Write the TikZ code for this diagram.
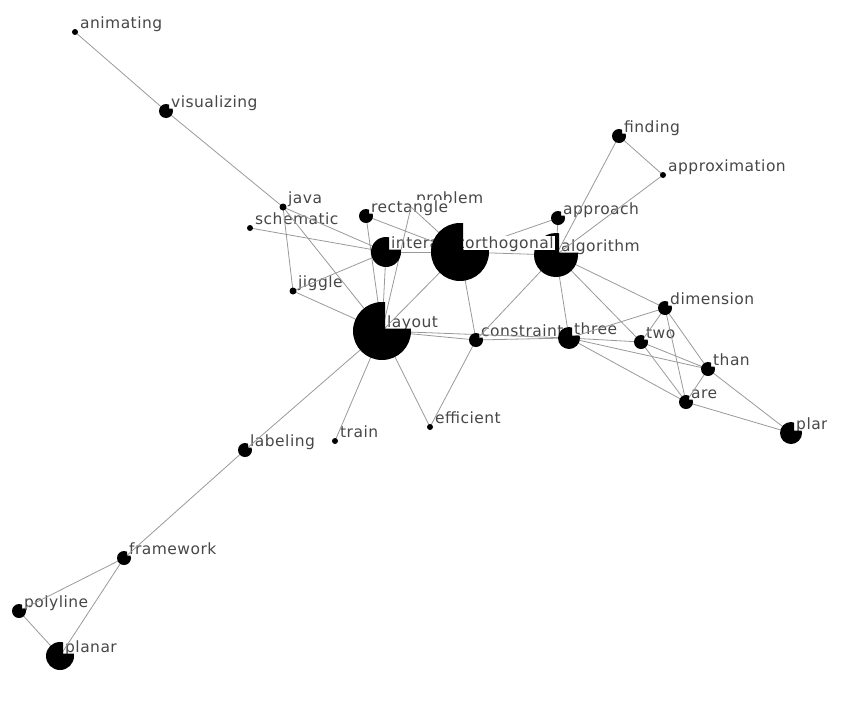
\documentclass[tikz,border=0pt]{standalone}
\usepackage{fontspec}
\setmainfont[LetterSpace=3]{DejaVu Sans}
\begin{document}
\begin{tikzpicture}[x=1pt,y=-1pt,
  edge/.style={draw=black!40,line width=0.8pt},
  lbl/.style={anchor=base west,fill=white,text=black!72,inner xsep=1pt,inner ysep=1pt,
              text depth=0pt,font=\fontsize{15.5}{18}\selectfont},
  blob/.style={fill=black}]
\useasboundingbox (0,0) rectangle (848,707);

% word positions (x, y, radius, printed word)
\def\words{animating/75/32/3/animating, visualizing/166/111/7/visualizing,
  java/283/207/3.5/java, schematic/250/228/3/schematic, jiggle/293/291/3.5/jiggle,
  problem/411/207/0/problem, rectangle/366/216/7/rectangle,
  interaction/386/252/15/interaction,
  approach/558/218/7/approach, algorithm/556/255/22/algorithm,
  finding/619/136/7/finding, approximation/663/175/3/approximation,
  layout/382/331/29/layout, constraint/476/340/7/constraint,
  three/569/338/11/three, two/641/342/7/two, dimension/665/308/7/dimension,
  than/708/369/7/than, are/686/402/7/are,
  efficient/430/427/3/efficient, train/335/441/3/train, labeling/245/450/7/labeling,
  framework/124/558/7/framework, polyline/19/611/7/polyline, planar/60/656/14/planar}

\foreach \n/\x/\y/\r/\t in \words {\coordinate (\n) at (\x,\y);}
\coordinate (orthogonal) at (460,252);
\coordinate (planarR) at (791,433);

% labels with white boxes
\foreach \n/\x/\y/\r/\t in \words {\node[lbl] (\n-l) at (\x+4,\y-3.5) {\t};}
\begin{scope}
  \clip (0,0) rectangle (826,707);
  \node[lbl] (planarR-l) at (795,429.5) {planar};
\end{scope}

% co-occurrence links
\foreach \a/\b in {animating/visualizing, visualizing/java, java/jiggle, java/layout,
  java/interaction, schematic/interaction, jiggle/interaction, jiggle/layout,
  rectangle/layout, rectangle/orthogonal, problem/layout, problem/orthogonal,
  interaction/layout, interaction/orthogonal, orthogonal/algorithm, orthogonal/layout,
  orthogonal/constraint, approach/orthogonal, approach/algorithm, finding/algorithm,
  finding/approximation, approximation/algorithm, algorithm/constraint, algorithm/three,
  algorithm/two, algorithm/dimension, layout/constraint, layout/three, constraint/three,
  constraint/efficient, layout/efficient, layout/train, layout/labeling,
  labeling/framework, framework/polyline, framework/planar, polyline/planar,
  three/two, three/dimension, three/than, three/are, two/dimension, two/than, two/are,
  dimension/than, dimension/are, than/are, than/planarR, are/planarR}
  {\draw[edge] (\a) -- (\b);}

% word discs, with the label corner cut away
\foreach \n/\x/\y/\r in {animating/75/32/3, visualizing/166/111/7,
  java/283/207/3.5, schematic/250/228/3, jiggle/293/291/3.5,
  rectangle/366/216/7, interaction/386/252/15, orthogonal/460/252/29,
  approach/558/218/7, algorithm/556/255/22,
  finding/619/136/7, approximation/663/175/3,
  layout/382/331/29, constraint/476/340/7,
  three/569/338/11, two/641/342/7, dimension/665/308/7,
  than/708/369/7, are/686/402/7, planarR/791/433/11,
  efficient/430/427/3, train/335/441/3, labeling/245/450/7,
  framework/124/558/7, polyline/19/611/7, planar/60/656/14}
{
  \begin{scope}
    \clip ({\x-\r-1},{\y-\r-1}) -- ({\x+3},{\y-\r-1}) -- ({\x+3},{\y-2.5})
      -- ({\x+\r+1},{\y-2.5}) -- ({\x+\r+1},{\y+\r+1}) -- ({\x-\r-1},{\y+\r+1}) -- cycle;
    \fill[blob] (\n) circle[radius=\r];
  \end{scope}
}

% the orthogonal label lies over the algorithm disc
\node[lbl] (orthogonal-l) at (464,248.5) {orthogonal};
\end{tikzpicture}
\end{document}
